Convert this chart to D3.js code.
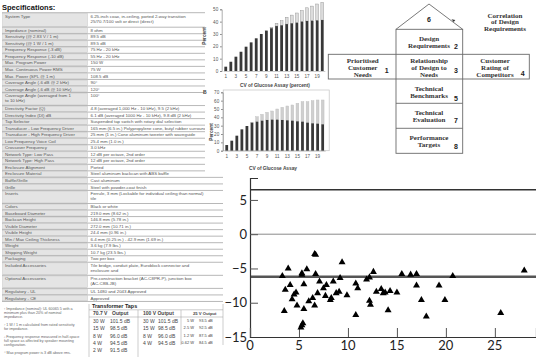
<!DOCTYPE html>
<html><head><meta charset="utf-8">
<script src="https://cdn.jsdelivr.net/npm/d3@7"></script>
<style>body{margin:0;background:#fff}svg{display:block}</style>
</head><body><svg id="c" width="536" height="357"></svg>
<script>
// ---------------- DATA ----------------
const specLabels = [
 "System Type","Impedance (nominal)","Sensitivity (@ 2.83 V / 1 m)","Sensitivity (@ 1 W / 1 m)",
 "Frequency Response (-3 dB)","Frequency Response (-10 dB)","Max. Program Power","Max. Continuous Power RMS",
 "Max. Power (SPL @ 1 m)","Coverage Angle (-6 dB @ 2 kHz)","Coverage Angle (-6 dB @ 10 kHz)",
 "Coverage Angle (averaged from 1|to 10 kHz)","Directivity Factor (Q)","Directivity Index (DI) dB","Tap Selector",
 "Transducer - Low Frequency Driver","Transducer - High Frequency Driver","Low Frequency Voice Coil",
 "Crossover Frequency","Network Type: Low Pass","Network Type: High Pass","Enclosure Alignment",
 "Enclosure Material","Baffle/Grille","Grille","Inserts","Colors","Baseboard Diameter","Backcan Height",
 "Visible Diameter","Visible Height","Min / Max Ceiling Thickness","Weight","Shipping Weight","Packaging",
 "Included Accessories","Optional Accessories","Regulatory - UL","Regulatory - CE"];
const specValues = [
 "6.25-inch coax, in-ceiling, ported 2-way transition|25/70.7/100 volt or direct (direct)","8 ohm","89.5 dB","89.5 dB",
 "75 Hz - 20 kHz","55 Hz - 20 kHz","150 W","75 W","108.5 dB","90°","120°","100°",
 "4.8 (averaged 1,000 Hz - 10 kHz), 9.5 (2 kHz)","6.1 dB (averaged 1000 Hz - 10 kHz), 9.8 dB (2 kHz)",
 "Suspended tap switch with rotary dial selection","165 mm (6.5 in.) Polypropylene cone, butyl rubber surround",
 "25 mm (1 in.) Cone aluminum tweeter with waveguide","25.4 mm (1.0 in.)","3.0 kHz","12 dB per octave, 2nd order",
 "12 dB per octave, 2nd order","Ported","Steel aluminum backcan with ABS baffle","Cast aluminum",
 "Steel with powder-coat finish","Ferrule, 3 mm (Lockable for individual ceiling than normal)|tile","Black or white",
 "219.0 mm (8.62 in.)","146.8 mm (5.78 in.)","272.0 mm (10.71 in.)","24.4 mm (0.96 in.)",
 "6.4 mm (0.25 in.) - 42.9 mm (1.69 in.)","3.6 kg (7.9 lbs.)","10.7 kg (23.5 lbs.)","Two per box",
 "Tile bridge, conduit plate, Euroblock connector and|enclosure and","Pre-construction bracket (AC-C8PR-P), junction box|(AC-C8B-JB)",
 "UL 1480 and 2043 Approved","Approved"];
const footnotes = [
 "¹ Impedance (nominal): UL 60065 5 with a|minimum plus than 20% of nominal|impedance.",
 "² 1 W / 1 m calculated from rated sensitivity|for impedance.",
 "³ Frequency response measured in half-space|full space as affected by speaker mounting|configuration.",
 "⁴ Max program power is 3 dB above rms."];
const tapHeaders = ["70.7 V","Output","100 V Output","25 V Output"];
const tap70W = ["30 W","15 W","8 W","4 W","2 W"];
const tap70dB = ["101.5 dB","98.5 dB","96.0 dB","94.5 dB","91.5 dB"];
const tap100W = ["30 W","15 W","8 W","4 W"];
const tap100dB = ["101.5 dB","98.5 dB","96.0 dB","94.5 dB"];
const tap25W = ["5 W","2.5 W","1.2 W","0.62 W"];
const tap25dB = ["93.5 dB","92.5 dB","87.5 dB","84.5 dB"];

const barCategories = [1,2,3,4,5,6,7,8,9,10,11,12,13,14,15,16,17,18,19,20];
const barTickLabels = [1,3,5,7,9,11,13,15,17,19];
const chartADark  = [3.5,7.5,11.6,15.6,19.7,23.2,26.5,30,32.6,34.6,36.4,37,38,38.6,39.1,40,40.5,40.7,41,41.3];
const chartALight = [0,0,0,0,0,0,0,0,0.4,0.9,2.3,3.7,5.6,6.7,7.9,9,10.7,11.9,13.3,14.3];
const chartATicks = [0,10,20,30,40,50];
const chartBDark  = [6.8,12,18,25.6,29.6,33.6,34.8,36,36.8,37.2,37.2,36.8,36.4,36,35.2,34.8,33.6,32.8,32.4,31.6];
const chartBLight = [0,0,0,0,0,0.6,6,7.6,9.2,10.4,12.8,15.2,17.2,18.8,21.6,24,25.2,27.2,28.4,29.2];
const chartBTicks = [0,10,20,30,40,50,60,70];

const houseText = ["Design|Requirements","Prioritised|Customer|Needs","Relationship|of Design to|Needs","Customer|Rating of|Competitors","Technical|Benchmarks","Technical|Evaluation","Performance|Targets"];
const houseNums = ["2","1","3","4","5","7","8"];
const roofNum = "6";
const roofLabel = "Correlation|of Design|Requirements";

const scatterX = [3.3,3.9,3.6,4.1,3.5,4.3,4.5,4.7,4.8,5.3,5.3,5.8,5.5,5.5,5.3,5.2,5.4,6.0,6.4,6.6,6.6,6.7,6.7,7.1,6.9,7.5,7.7,7.8,8.2,8.3,8.5,8.8,9.1,9.2,9.4,9.9,10.8,11.0,10.8,
 11.9,12.2,12.6,12.2,12.3,12.9,13.4,13.6,13.8,14.3,15.0,14.1,15.5,16.4,17.0,17.0,17.5,18.0,19.3,19.9,20.7,25.6,28.0];
const scatterY = [-6.1,-5.0,-8.1,-7.4,-11.2,-9.5,-8.8,-8.5,-10.4,-5.7,-5.9,-5.1,-7.3,-10.9,-13.3,-13.6,-13.0,-9.8,-9.3,-10.4,-2.9,-3.0,-5.8,-6.9,-8.6,-7.9,-9.0,-7.4,-9.6,-9.3,-6.9,-8.6,-8.4,-6.4,-4.1,-8.9,-7.2,-7.9,-11.8,
 -6.6,-6.3,-5.5,-9.7,-10.3,-8.4,-8.0,-8.6,-8.5,-8.3,-8.5,-11.1,-5.8,-5.9,-5.8,-7.5,-9.6,-12.0,-7.5,-9.6,-6.1,-11.5,-5.3];
const scatterRefLines = [6.5, 0, -6.2];
const scatterXTicks = [0,5,10,15,20,25];
const scatterYTicks = [5,0,-5,-10,-15];

// ---------------- DRAW ----------------
const svg = d3.select("#c");
const SANS = "Liberation Sans, Arial, sans-serif";
const SERIF = "Liberation Serif, Times New Roman, serif";

// ---- spec table ----
svg.append("text").attr("x",2).attr("y",9.5).attr("font-family",SANS).attr("font-weight","bold")
  .attr("font-size",7.5).attr("fill","#111").text("Specifications:");
const tb = svg.append("g");
const X0 = 2, XD = 88, X1 = 223, UNIT = 6.53;
let yy = 12.7;
tb.append("line").attr("x1",X0).attr("x2",X1).attr("y1",yy).attr("y2",yy).attr("stroke","#888").attr("stroke-width",0.6);
specLabels.forEach((lab,i)=>{
  const ll = lab.split("|"), vl = specValues[i].split("|");
  const n = Math.max(ll.length, vl.length);
  const h = i===0 ? 14.5 : n*UNIT;
  tb.append("rect").attr("x",X0+0.5).attr("y",yy+0.6).attr("width",XD-X0-1).attr("height",h-1.2).attr("fill","#e4e4e4").attr("stroke","#bdbdbd").attr("stroke-width",0.4);
  const off = i===0 ? 5.3 : 4.6;
  ll.forEach((t,j)=>tb.append("text").attr("x",X0+3).attr("y",yy+off+j*5.3).attr("font-family",SANS).attr("font-size",4.4).attr("fill","#555").text(t));
  vl.forEach((t,j)=>tb.append("text").attr("x",XD+2.5).attr("y",yy+off+j*5.3).attr("font-family",SANS).attr("font-size",4.4).attr("fill","#555").text(t));
  yy += h;
  tb.append("line").attr("x1",X0).attr("x2",X1).attr("y1",yy).attr("y2",yy).attr("stroke","#888").attr("stroke-width",0.6);
});
// footnotes
let fy = 310;
footnotes.forEach(f=>{
  const ls = f.split("|");
  ls.forEach((t,j)=>svg.append("text").attr("x",4).attr("y",fy+j*4.2).attr("font-family",SANS).attr("font-size",3.7).attr("fill","#666").text(t));
  fy += ls.length*4.2 + 3.5;
});
// transformer taps
const tp = svg.append("g").attr("font-family",SANS).attr("fill","#444");
tp.append("text").attr("x",92).attr("y",307.5).attr("font-size",5.4).attr("font-weight","bold").attr("fill","#222").text("Transformer Taps");
[[89,304,89,357],[89,309.8,223,309.8],[89,317,223,317],[138,310,138,357],[181,310,181,345],[223,304,223,345]].forEach(l=>
  tp.append("line").attr("x1",l[0]).attr("y1",l[1]).attr("x2",l[2]).attr("y2",l[3]).attr("stroke","#999").attr("stroke-width",0.5));
tp.append("text").attr("x",93).attr("y",315.3).attr("font-size",5).attr("font-weight","bold").text(tapHeaders[0]);
tp.append("text").attr("x",112).attr("y",315.3).attr("font-size",5).attr("font-weight","bold").text(tapHeaders[1]);
tp.append("text").attr("x",143).attr("y",315.3).attr("font-size",5).attr("font-weight","bold").text(tapHeaders[2]);
tp.append("text").attr("x",193).attr("y",315.3).attr("font-size",4.2).attr("font-weight","bold").text(tapHeaders[3]);
const tapRowY = [323,330.3,337.7,345,352.3];
tap70W.forEach((t,i)=>{tp.append("text").attr("x",93).attr("y",tapRowY[i]).attr("font-size",5).text(t);
  tp.append("text").attr("x",110).attr("y",tapRowY[i]).attr("font-size",5).text(tap70dB[i]);});
tap100W.forEach((t,i)=>{tp.append("text").attr("x",143).attr("y",tapRowY[i]).attr("font-size",5).text(t);
  tp.append("text").attr("x",158).attr("y",tapRowY[i]).attr("font-size",5).text(tap100dB[i]);});
tap25W.forEach((t,i)=>{tp.append("text").attr("x",194).attr("y",tapRowY[i]-1).attr("font-size",4).attr("text-anchor","end").text(t);
  tp.append("text").attr("x",199).attr("y",tapRowY[i]-1).attr("font-size",4).text(tap25dB[i]);});

// cover for chart panels
svg.append("rect").attr("x",205).attr("y",0).attr("width",125).attr("height",176).attr("fill","#fff");

// ---- bar charts ----
function barChart(opts){
  const g = svg.append("g");
  const x = d3.scaleBand().domain(barCategories).range(opts.xr).paddingInner(0.45).paddingOuter(0.225);
  const y = d3.scaleLinear().domain(opts.yd).range(opts.yr);
  if (opts.frame) g.append("rect").attr("x",opts.xr[0]-1).attr("y",opts.frame).attr("width",opts.xr[1]-opts.xr[0]+5).attr("height",opts.yr[0]-opts.frame).attr("fill","none").attr("stroke","#c4c4c4").attr("stroke-width",0.7);
  barCategories.forEach((c,i)=>{
    const d = opts.dark[i], l = opts.light[i];
    if (l>0) g.append("rect").attr("x",x(c)).attr("width",x.bandwidth()).attr("y",y(d+l)).attr("height",y(d)-y(d+l))
      .attr("fill",opts.lightFill).attr("stroke",opts.lightStroke).attr("stroke-width",0.4);
    g.append("rect").attr("x",x(c)).attr("width",x.bandwidth()).attr("y",y(d)).attr("height",y(0)-y(d)).attr("fill","#383838");
  });
  const ya = g.append("g").attr("transform",`translate(${opts.xr[0]-1.5},0)`)
    .call(d3.axisLeft(y).tickValues(opts.ticks).tickSize(1.5).tickPadding(2));
  ya.select(".domain").attr("stroke","#777").attr("stroke-width",0.6);
  ya.selectAll(".tick line").attr("stroke","#777");
  ya.selectAll("text").attr("font-family",SANS).attr("font-size",4.6).attr("fill","#555");
  const xa = g.append("g").attr("transform",`translate(0,${opts.yr[0]})`)
    .call(d3.axisBottom(x).tickValues(barTickLabels).tickSize(0).tickPadding(4));
  xa.select(".domain").attr("stroke","#999").attr("stroke-width",0.5);
  xa.selectAll("text").attr("font-family",SANS).attr("font-size",4.6).attr("fill","#555");
  g.append("text").attr("transform",`translate(${opts.plx},${opts.ply}) rotate(-90)`).attr("text-anchor","middle")
    .attr("font-family",SANS).attr("font-weight","bold").attr("font-size",4.8).attr("fill","#444").text("Percent");
  g.append("text").attr("x",opts.tx).attr("y",opts.ty).attr("text-anchor","middle").attr("font-family",SANS)
    .attr("font-weight","bold").attr("font-size",4.8).attr("fill","#444").text(opts.title);
}
barChart({xr:[223.2,324.8], yd:[0,50], yr:[71,9.3], ticks:chartATicks, dark:chartADark, light:chartALight,
  lightFill:"#dcdcdc", lightStroke:"#8a8a8a", plx:206, ply:36, tx:275, ty:87, title:"CV of Glucose Assay (percent)"});
barChart({xr:[224.2,325.2], yd:[0,70], yr:[150.7,92.3], ticks:chartBTicks, dark:chartBDark, light:chartBLight,
  lightFill:"#cfcfcf", lightStroke:"#bdbdbd", plx:212.5, ply:132, tx:273, ty:170, title:"CV of Glucose Assay", frame:90});
svg.append("text").attr("x",203).attr("y",94).attr("font-family",SANS).attr("font-weight","bold").attr("font-size",5).attr("fill","#444").text("B");

// ---- house of quality ----
const H = svg.append("g");
const st = {stroke:"#6a6a6a", sw:0.9};
const CX0 = 396, CX1 = 462.7, WX0 = 328.3, WX1 = 529.3;
const rowsY = [29.3,54.3,79,103.3,128.3,153.3];
H.append("path").attr("d",`M${CX0},${rowsY[0]}L429,4L${CX1},${rowsY[0]}`).attr("fill","none").attr("stroke",st.stroke).attr("stroke-width",st.sw);
H.append("rect").attr("x",CX0).attr("y",rowsY[0]).attr("width",CX1-CX0).attr("height",rowsY[5]-rowsY[0]).attr("fill","none").attr("stroke",st.stroke).attr("stroke-width",st.sw);
H.append("rect").attr("x",WX0).attr("y",rowsY[1]).attr("width",WX1-WX0).attr("height",rowsY[2]-rowsY[1]).attr("fill","none").attr("stroke",st.stroke).attr("stroke-width",st.sw);
[rowsY[3],rowsY[4]].forEach(v=>H.append("line").attr("x1",CX0).attr("x2",CX1).attr("y1",v).attr("y2",v).attr("stroke",st.stroke).attr("stroke-width",st.sw));
H.append("text").attr("x",429).attr("y",22).attr("text-anchor","middle").attr("font-family",SANS).attr("font-weight","bold").attr("font-size",7).attr("fill","#222").text(roofNum);
roofLabel.split("|").forEach((t,j)=>H.append("text").attr("x",505).attr("y",17.5+j*6.8).attr("text-anchor","middle")
  .attr("font-family",SERIF).attr("font-weight","bold").attr("font-size",7).attr("fill","#333").text(t));
H.append("path").attr("d","M451.5,19.3l3.8,0.6l-1.6,2.2z").attr("fill","#333");
const cellCX = [429,362.7,429,495,429,429,429];
const cellTop = [rowsY[0],rowsY[1],rowsY[1],rowsY[1],rowsY[2],rowsY[3],rowsY[4]];
const numXY = [[456,49],[386.7,73],[456,72.5],[522.7,76],[456,101],[456,123],[456,148.5]];
houseText.forEach((t,i)=>{
  const ls = t.split("|");
  const firstY = ls.length===3 ? cellTop[i]+9 : cellTop[i]+12;
  ls.forEach((s,j)=>H.append("text").attr("x",cellCX[i]).attr("y",firstY+j*6.8).attr("text-anchor","middle")
    .attr("font-family",SERIF).attr("font-weight","bold").attr("font-size",7).attr("fill","#333").text(s));
  H.append("text").attr("x",numXY[i][0]).attr("y",numXY[i][1]).attr("text-anchor","middle").attr("font-family",SANS)
    .attr("font-weight","bold").attr("font-size",7).attr("fill","#222").text(houseNums[i]);
});

// ---- scatter ----
const S = svg.append("g");
const sx = d3.scaleLinear().domain([0,29.2]).range([250,536]);
const sy = d3.scaleLinear().domain([-15,8.2]).range([337,178]);
S.append("line").attr("x1",sx(0)).attr("x2",536).attr("y1",sy(scatterRefLines[0])).attr("y2",sy(scatterRefLines[0])).attr("stroke","#333").attr("stroke-width",1.5);
S.append("line").attr("x1",sx(0)).attr("x2",536).attr("y1",sy(scatterRefLines[1])).attr("y2",sy(scatterRefLines[1])).attr("stroke","#8a8a8a").attr("stroke-width",1);
S.append("line").attr("x1",sx(0)).attr("x2",536).attr("y1",sy(scatterRefLines[2])).attr("y2",sy(scatterRefLines[2])).attr("stroke","#555").attr("stroke-width",2.6);
const yax = S.append("g").attr("transform",`translate(${sx(0)},0)`).call(d3.axisRight(sy).tickValues(scatterYTicks).tickSize(8).tickFormat(()=>""));
yax.select(".domain").attr("stroke","#333").attr("stroke-width",1.2);
yax.selectAll(".tick line").attr("stroke","#555");
const xax = S.append("g").attr("transform",`translate(0,${sy(-15)})`).call(d3.axisTop(sx).tickValues(scatterXTicks).tickSize(9).tickFormat(()=>""));
xax.select(".domain").attr("stroke","#333").attr("stroke-width",1.2);
xax.selectAll(".tick line").attr("stroke","#555");
scatterYTicks.forEach(v=>S.append("text").attr("x",247).attr("y",sy(v)).attr("dy","0.36em").attr("text-anchor","end")
  .attr("font-family","Lato, sans-serif").attr("font-size",13).attr("fill","#222").text(v<0?"\u2212"+Math.abs(v):v));
scatterXTicks.forEach(v=>S.append("text").attr("x",sx(v)).attr("y",350).attr("text-anchor","middle")
  .attr("font-family","Lato, sans-serif").attr("font-size",13).attr("fill","#222").text(v));
const tri = d3.symbol().type(d3.symbolTriangle).size(21);
scatterX.forEach((v,i)=>S.append("path").attr("d",tri).attr("transform",`translate(${sx(v)},${sy(scatterY[i])})`).attr("fill","#000"));
</script></body></html>
